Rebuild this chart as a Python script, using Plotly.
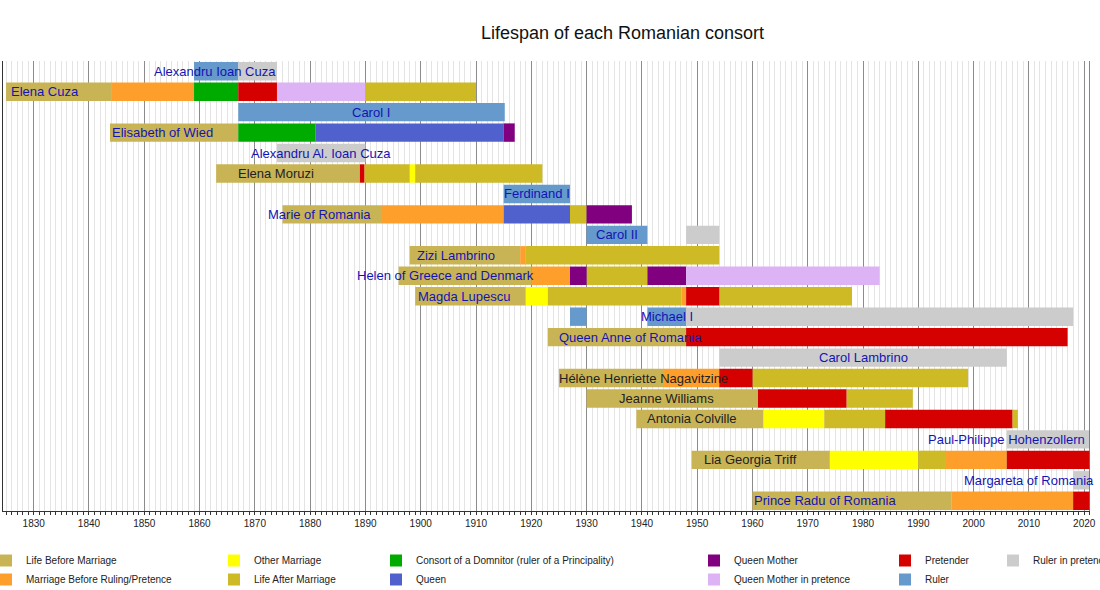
import plotly.graph_objects as go

# rows, top to bottom
rows = [
    "Alexandru Ioan Cuza", "Elena Cuza", "Carol I", "Elisabeth of Wied",
    "Alexandru Al. Ioan Cuza", "Elena Moruzi", "Ferdinand I", "Marie of Romania",
    "Carol II", "Zizi Lambrino", "Helen of Greece and Denmark", "Magda Lupescu",
    "Michael I", "Queen Anne of Romania", "Carol Lambrino",
    "Hélène Henriette Nagavitzine", "Jeanne Williams", "Antonia Colville",
    "Paul-Philippe Hohenzollern", "Lia Georgia Triff", "Margareta of Romania",
    "Prince Radu of Romania",
]

# (row, from, till) for each period type
life_before = [
    ("Elena Cuza", 1825, 1844), ("Elisabeth of Wied", 1843.8, 1867),
    ("Elena Moruzi", 1863, 1889), ("Marie of Romania", 1875, 1893),
    ("Zizi Lambrino", 1898, 1918), ("Helen of Greece and Denmark", 1896, 1920),
    ("Magda Lupescu", 1899, 1919), ("Queen Anne of Romania", 1923, 1948),
    ("Hélène Henriette Nagavitzine", 1925, 1944), ("Jeanne Williams", 1930, 1961),
    ("Antonia Colville", 1939, 1962), ("Lia Georgia Triff", 1949, 1974),
    ("Prince Radu of Romania", 1960, 1996),
]
marriage_before = [
    ("Elena Cuza", 1844, 1859), ("Marie of Romania", 1893, 1915),
    ("Zizi Lambrino", 1918, 1919), ("Helen of Greece and Denmark", 1920, 1927),
    ("Magda Lupescu", 1947.2, 1948), ("Hélène Henriette Nagavitzine", 1944, 1954),
    ("Lia Georgia Triff", 1995, 2006), ("Prince Radu of Romania", 1996, 2018),
]
other_marriage = [
    ("Elena Moruzi", 1898, 1899), ("Magda Lupescu", 1919, 1923),
    ("Antonia Colville", 1962, 1973), ("Lia Georgia Triff", 1974, 1990),
]
life_after = [
    ("Elena Cuza", 1890, 1910), ("Elena Moruzi", 1889.8, 1898),
    ("Elena Moruzi", 1899, 1922), ("Marie of Romania", 1927, 1930),
    ("Zizi Lambrino", 1919, 1954), ("Helen of Greece and Denmark", 1930, 1941),
    ("Magda Lupescu", 1923, 1947.2), ("Magda Lupescu", 1954, 1978),
    ("Hélène Henriette Nagavitzine", 1960, 1999), ("Jeanne Williams", 1977, 1989),
    ("Antonia Colville", 1973, 1984), ("Antonia Colville", 2007, 2008),
    ("Lia Georgia Triff", 1990, 1995),
]
consort_domnitor = [
    ("Elena Cuza", 1859, 1867), ("Elisabeth of Wied", 1867, 1881),
]
queen = [
    ("Elisabeth of Wied", 1881, 1915), ("Marie of Romania", 1915, 1927),
]
queen_mother = [
    ("Elisabeth of Wied", 1915, 1917), ("Marie of Romania", 1930, 1938.2),
    ("Helen of Greece and Denmark", 1927, 1930),
    ("Helen of Greece and Denmark", 1941, 1948),
]
queen_mother_pretence = [
    ("Elena Cuza", 1874, 1890), ("Helen of Greece and Denmark", 1948, 1983),
]
pretender = [
    ("Elena Cuza", 1867, 1874), ("Elena Moruzi", 1889, 1889.8),
    ("Magda Lupescu", 1948, 1954), ("Queen Anne of Romania", 1948, 2017),
    ("Hélène Henriette Nagavitzine", 1954, 1960), ("Jeanne Williams", 1961, 1977),
    ("Antonia Colville", 1984, 2007), ("Lia Georgia Triff", 2006, 2021),
    ("Prince Radu of Romania", 2018, 2021),
]
ruler = [
    ("Alexandru Ioan Cuza", 1859, 1867), ("Carol I", 1867, 1915.2),
    ("Ferdinand I", 1915, 1927), ("Carol II", 1930, 1941),
    ("Michael I", 1927, 1930), ("Michael I", 1941, 1948),
]
ruler_pretence = [
    ("Alexandru Ioan Cuza", 1867, 1874), ("Alexandru Al. Ioan Cuza", 1874, 1890),
    ("Carol II", 1948, 1954), ("Michael I", 1948, 2018),
    ("Carol Lambrino", 1954, 2006), ("Paul-Philippe Hohenzollern", 2006, 2021),
    ("Margareta of Romania", 2018, 2021),
]

# label text: row, anchor year, alignment, dark (True) or blue
labels = [
    ("Alexandru Ioan Cuza", 1862.8, "center", False),
    ("Elena Cuza", 1825.5, "left", False),
    ("Carol I", 1891, "center", False),
    ("Elisabeth of Wied", 1843.8, "left", False),
    ("Alexandru Al. Ioan Cuza", 1882, "center", False),
    ("Elena Moruzi", 1866.6, "left", True),
    ("Ferdinand I", 1921, "center", False),
    ("Marie of Romania", 1872, "left", False),
    ("Carol II", 1935.5, "center", False),
    ("Zizi Lambrino", 1899, "left", False),
    ("Helen of Greece and Denmark", 1888.2, "left", False),
    ("Magda Lupescu", 1899.1, "left", False),
    ("Michael I", 1944.5, "center", False),
    ("Queen Anne of Romania", 1924.7, "left", False),
    ("Carol Lambrino", 1980, "center", False),
    ("Hélène Henriette Nagavitzine", 1924.6, "left", True),
    ("Jeanne Williams", 1935.5, "left", True),
    ("Antonia Colville", 1940.6, "left", True),
    ("Paul-Philippe Hohenzollern", 2006, "center", False),
    ("Lia Georgia Triff", 1950.8, "left", True),
    ("Margareta of Romania", 2010.1, "center", False),
    ("Prince Radu of Romania", 1960, "left", False),
]

now_year = 2021

series = [
    ("Life Before Marriage", life_before, "#c9b455", "legend"),
    ("Marriage Before Ruling/Pretence", marriage_before, "#ff9f2b", "legend"),
    ("Other Marriage", other_marriage, "#ffff00", "legend2"),
    ("Life After Marriage", life_after, "#cdba24", "legend2"),
    ("Consort of a Domnitor (ruler of a Principality)", consort_domnitor, "#00ab00", "legend3"),
    ("Queen", queen, "#5060cc", "legend3"),
    ("Queen Mother", queen_mother, "#800080", "legend4"),
    ("Queen Mother in pretence", queen_mother_pretence, "#ddb3f6", "legend4"),
    ("Pretender", pretender, "#d50000", "legend5"),
    ("Ruler", ruler, "#6699cc", "legend5"),
    ("Ruler in pretence", ruler_pretence, "#cccccc", "legend6"),
]

fig = go.Figure()
for name, segs, color, leg in series:
    fig.add_trace(go.Bar(
        y=[s[0] for s in segs],
        base=[s[1] for s in segs],
        x=[s[2] - s[1] for s in segs],
        orientation="h",
        name=name,
        marker=dict(color=color, line=dict(width=0)),
        width=0.9,
        legend=leg,
        hoverinfo="skip",
    ))

for row, at, align, dark in labels:
    fig.add_annotation(
        x=at, y=row, text=row, showarrow=False,
        xanchor=align, yanchor="middle",
        font=dict(family="Liberation Sans, Arial", size=13,
                  color="#222222" if dark else "#1414b4"),
    )

fig.add_vline(x=now_year, line=dict(color="#00aa00", width=1))

W, H = 1100, 590
ml, mr, mt, mb = 3, 10, 61, 79
pw, ph = W - ml - mr, H - mt - mb


def px_x(p):
    return (p - ml) / pw


def px_y(p):
    return (H - mb - p) / ph


leg_cols = [0, 228, 390, 708, 899, 1007]
leg_names = ["legend", "legend2", "legend3", "legend4", "legend5", "legend6"]
legend_layout = {}
for nm, col in zip(leg_names, leg_cols):
    legend_layout[nm] = dict(
        x=px_x(col - 14), y=px_y(546), xanchor="left", yanchor="top",
        orientation="v", bgcolor="rgba(0,0,0,0)", borderwidth=0,
        font=dict(family="Liberation Sans, Arial", size=10, color="#222222"),
        tracegroupgap=0,
    )

fig.update_layout(
    width=W, height=H,
    margin=dict(l=ml, r=mr, t=mt, b=mb, autoexpand=False),
    barmode="overlay",
    plot_bgcolor="white", paper_bgcolor="white",
    title=dict(text="Lifespan of each Romanian consort", x=622.5 / W, xanchor="center",
               y=1 - 33 / H, yanchor="middle",
               font=dict(family="Liberation Sans, Arial", size=18, color="#111111")),
    xaxis=dict(
        range=[1824.45, 2021.05], tick0=1830, dtick=10,
        showgrid=True, gridcolor="#8c8c8c", gridwidth=1,
        ticks="outside", ticklen=3, tickcolor="#333333",
        showline=True, linecolor="#333333", linewidth=1,
        tickfont=dict(family="Liberation Sans, Arial", size=10, color="#222222"),
        zeroline=False,
        minor=dict(dtick=1, showgrid=True, gridcolor="#e4e4e4",
                   ticks="outside", ticklen=3, tickcolor="#333333"),
    ),
    yaxis=dict(
        categoryorder="array", categoryarray=rows, autorange="reversed",
        showticklabels=False, showgrid=False, zeroline=False,
        showline=True, linecolor="#333333", linewidth=1, ticks="",
    ),
    **legend_layout,
)

# page body has a default margin; drop it so the figure sits at the window corner
fig.write_html("out.html", config={"displayModeBar": False},
               post_script="document.body.style.margin='0';")
